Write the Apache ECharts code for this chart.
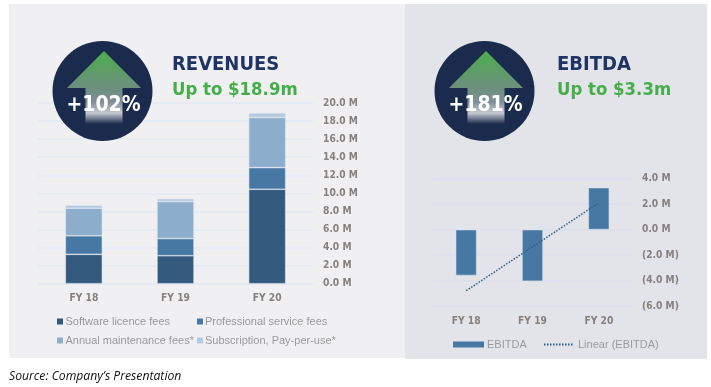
<!DOCTYPE html>
<html><head><meta charset="utf-8">
<style>html,body{margin:0;padding:0;background:#fff}#c{width:711px;height:387px}</style>
<script src="https://cdn.jsdelivr.net/npm/echarts@6/dist/echarts.min.js"></script>
</head><body><div id="c"></div>
<script>
const categories = ['FY 18','FY 19','FY 20'];
const software = [3.25,3.1,10.45];
const professional = [2.05,1.9,2.4];
const maintenance = [3.05,4.1,5.55];
const subscription = [0.35,0.3,0.5];
const ebitda = [-3.6,-4.05,3.3];
const linearEbitda = [-4.8,-1.35,2.1];
const revenueLegendA = ['Software licence fees','Annual maintenance fees*'];
const revenueLegendB = ['Professional service fees','Subscription, Pay-per-use*'];

const cond = '"DejaVu Sans Condensed","DejaVu Sans"';
const tickFont = {color:'#86817d',fontFamily:cond,fontWeight:'bold',fontSize:10.2};
const legendText = {color:'#9a9a9e',fontFamily:'Liberation Sans',fontSize:11};
const gridLineL = {show:true,lineStyle:{color:'#e3e8f2',width:1.5}};
const gridLineR = {show:true,lineStyle:{color:'#dce1ee',width:1.5}};
const edge = '#dfe5ef';

function stackBar(name,data,color){
  return {name,type:'bar',stack:'rev',xAxisIndex:0,yAxisIndex:0,barWidth:37,data,
    itemStyle:{color,borderColor:edge,borderWidth:0.6}};
}
function badge(cx,label){
  const cy=91;
  const top=51, wing=88, bottom=124, dx=cx+1.5;
  return [
    {type:'circle',z:10,shape:{cx,cy,r:50},style:{fill:'#1b2b4d'}},
    {type:'polygon',z:11,shape:{points:[[dx,top],[dx+37,wing],[dx+18.5,wing],[dx+18.5,bottom],[dx-18.5,bottom],[dx-18.5,wing],[dx-37,wing]]},
      style:{fill:{type:'linear',x:0,y:0,x2:0,y2:1,colorStops:[
        {offset:0,color:'#4cae4c'},{offset:0.5,color:'#6d8f7e'},{offset:0.7,color:'#7f8f98'},
        {offset:0.85,color:'#c5c9d0'},{offset:1,color:'#1b2b4d'}]}}},
    {type:'text',z:12,x:cx+1,y:106,style:{text:label,fill:'#fff',fontFamily:cond,fontWeight:'bold',fontSize:21,align:'center',verticalAlign:'middle'}}
  ];
}

const chart = echarts.init(document.getElementById('c'),null,{renderer:'canvas'});
const headBold = {fontFamily:cond,fontWeight:'bold',fontSize:20};
const subBold = {fontFamily:cond,fontWeight:'bold',fontSize:18.4};
chart.setOption({
  animation:false,
  backgroundColor:'#fff',
  title:[
    {text:'REVENUES',left:167,top:50,textStyle:{color:'#1f3364',...headBold}},
    {text:'Up to $18.9m',left:167,top:76,textStyle:{color:'#45ae48',...subBold}},
    {text:'EBITDA',left:552,top:50,textStyle:{color:'#1f3364',...headBold}},
    {text:'Up to $3.3m',left:552,top:76,textStyle:{color:'#45ae48',...subBold}},
    {text:'Source: Company\u2019s Presentation',left:4,top:366,textStyle:{color:'#111',fontFamily:'Open Sans',fontStyle:'italic',fontWeight:'normal',fontSize:12.2}}
  ],
  grid:[
    {left:38,width:275,top:103,height:180.7},
    {left:433,width:199,top:178.7,height:127.3}
  ],
  xAxis:[
    {type:'category',gridIndex:0,data:categories,position:'bottom',axisLine:{show:false},axisTick:{show:false},axisLabel:{...tickFont,margin:10}},
    {type:'category',gridIndex:1,data:categories,position:'bottom',axisLine:{show:false,onZero:false},axisTick:{show:false},axisLabel:{...tickFont,margin:10}}
  ],
  yAxis:[
    {type:'value',gridIndex:0,position:'right',min:0,max:20,interval:2,splitLine:gridLineL,axisLine:{show:false},axisTick:{show:false},
      axisLabel:{...tickFont,margin:10,padding:[3,0,0,0],formatter:v=>v.toFixed(1)+' M'}},
    {type:'value',gridIndex:1,position:'right',min:-6,max:4,interval:2,splitLine:gridLineR,axisLine:{show:false},axisTick:{show:false},
      axisLabel:{...tickFont,margin:10,padding:[3,0,0,0],formatter:v=>v<0?'('+(-v).toFixed(1)+' M)':v.toFixed(1)+' M'}}
  ],
  legend:[
    {orient:'vertical',left:57,top:316,itemGap:8,itemWidth:6,itemHeight:6,icon:'rect',padding:0,itemStyle:{borderWidth:0},textStyle:{...legendText,padding:[0,0,0,-2.5]},data:revenueLegendA},
    {orient:'vertical',left:197,top:316,itemGap:8,itemWidth:6,itemHeight:6,icon:'rect',padding:0,itemStyle:{borderWidth:0},textStyle:{...legendText,padding:[0,0,0,-3]},data:revenueLegendB},
    {left:453,top:339,itemWidth:31,itemHeight:6,icon:'rect',padding:0,itemStyle:{borderWidth:0},textStyle:{...legendText,padding:[0,0,0,-2]},data:['EBITDA']},
    {left:543,top:339,itemWidth:30,itemHeight:10,padding:0,itemStyle:{opacity:0},textStyle:{...legendText,padding:[0,0,0,-1]},data:['Linear (EBITDA)']}
  ],
  series:[
    stackBar('Software licence fees',software,'#335a7c'),
    stackBar('Professional service fees',professional,'#4777a3'),
    stackBar('Annual maintenance fees*',maintenance,'#8dadcd'),
    stackBar('Subscription, Pay-per-use*',subscription,'#b3cae0'),
    {name:'EBITDA',type:'bar',xAxisIndex:1,yAxisIndex:1,barWidth:21,data:ebitda,itemStyle:{color:'#4777a3',borderColor:edge,borderWidth:0.6}},
    {name:'Linear (EBITDA)',type:'line',xAxisIndex:1,yAxisIndex:1,data:linearEbitda,symbol:'none',z:5,
      itemStyle:{color:'#2f5f8a'},lineStyle:{color:'#2f5f8a',type:[1.5,1.5],width:1.5}}
  ],
  graphic:[
    {type:'rect',z:-5,silent:true,shape:{x:9,y:4,width:396,height:354},style:{fill:'#f0f0f3'}},
    {type:'rect',z:-5,silent:true,shape:{x:405,y:4,width:302,height:355},style:{fill:'#e3e3ea'}},
    ...badge(102.5,'+102%'),
    ...badge(484.5,'+181%')
  ]
});
</script></body></html>
